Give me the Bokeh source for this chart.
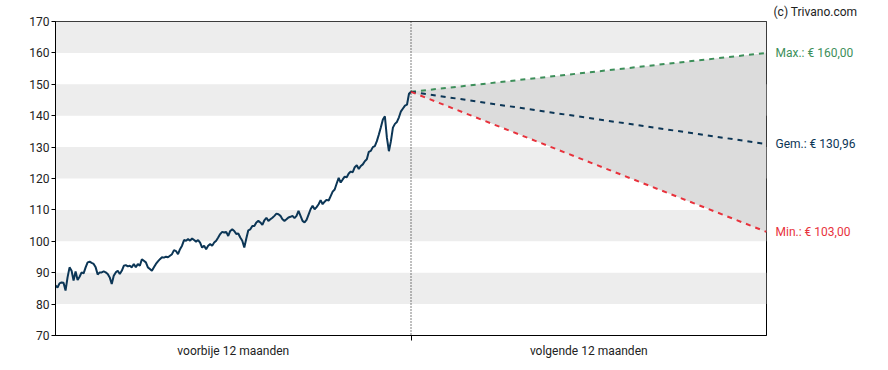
import numpy as np
from bokeh.plotting import figure
from bokeh.layouts import row
from bokeh.models import FixedTicker, Span, Label
from bokeh.embed import file_html
from bokeh.resources import INLINE

# ---- data ----
past_prices = [
    85.9, 85.3, 86.6, 86.9, 86.8, 84.3, 88.5, 91.7, 90.6, 87.5, 90.4, 87.7, 88.7, 90.1, 89.8,
    91.7, 93.3, 93.5, 93.1, 92.8, 91.7, 89.4, 90.1, 90.1, 90.4, 90.1, 89.6, 88.5, 86.4, 89.0,
    90.1, 90.6, 89.6, 90.6, 92.2, 92.4, 92.0, 92.2, 91.7, 92.8, 91.7, 92.8, 92.2, 94.3, 93.8,
    93.3, 91.7, 91.2, 90.6, 91.7, 92.8, 93.6, 94.3, 94.9, 94.8, 95.1, 94.9, 95.4, 95.9, 97.2,
    96.9, 95.9, 97.5, 98.6, 100.4, 100.2, 100.7, 100.2, 100.9, 100.4, 99.9, 100.4, 99.6, 98.0,
    98.6, 97.5, 98.6, 99.1, 98.6, 99.6, 100.2, 101.2, 102.3, 103.0, 102.8, 103.0, 101.7, 103.3,
    103.8, 103.3, 102.3, 102.5, 101.2, 100.2, 98.0, 100.9, 103.5, 103.8, 104.9, 104.9, 106.0,
    106.5, 106.0, 105.2, 106.7, 107.5, 106.5, 107.0, 107.5, 108.1, 108.8, 108.6, 108.1, 107.0,
    106.5, 107.0, 107.6, 107.8, 108.1, 107.4, 108.1, 109.7, 108.1, 106.5, 106.0, 106.8, 108.5,
    110.2, 111.3, 110.2, 110.9, 111.8, 113.1, 111.8, 112.6, 113.2, 113.0, 114.4, 115.8, 116.5,
    118.4, 120.2, 118.7, 119.7, 120.6, 120.4, 121.6, 122.2, 122.0, 123.6, 124.2, 123.0, 124.0,
    124.5, 125.5, 126.1, 128.5, 128.8, 130.0, 130.3, 131.9, 134.0, 136.3, 138.8, 139.8, 133.0,
    128.7, 131.9, 136.2, 137.4, 138.0, 139.5, 141.4, 142.3, 143.2, 143.5, 147.0, 147.6,
]
past_months = 12
future_months = 12
forecast_max = 160.00
forecast_avg = 130.96
forecast_min = 103.00
band_lows = [80, 100, 120, 140, 160]
band_size = 10
y_ticks = [70, 80, 90, 100, 110, 120, 130, 140, 150, 160, 170]
period_labels = ["voorbije 12 maanden", "volgende 12 maanden"]
label_texts = ["Max.: € 160,00", "Gem.: € 130,96", "Min.: € 103,00"]
copyright_text = "(c) Trivano.com"

FONT = "Roboto"
NAVY = "#0c3656"
GREEN = "#3d8f5a"
RED = "#e8323c"

Y0, Y1 = 70, 170
H = 362
TOP, BOTTOM = 20, 27

x_end = past_months + future_months
p = figure(width=768, height=H, output_backend="svg", toolbar_location=None,
           x_range=(0, x_end), y_range=(Y0, Y1),
           min_border_left=55, min_border_right=2, min_border_top=TOP, min_border_bottom=BOTTOM)
p.grid.visible = False
p.outline_line_color = "black"
p.outline_line_alpha = 1
p.outline_line_width = 1
p.background_fill_color = "white"
p.border_fill_color = "white"

p.quad(left=0, right=x_end, bottom=band_lows, top=[b + band_size for b in band_lows],
       fill_color="#ededed", line_color=None)

last = past_prices[-1]
fx = [past_months, x_end]
p.varea(x=fx, y1=[last, forecast_min], y2=[last, forecast_max], fill_color="#dcdcdc")

px = np.linspace(0, past_months, len(past_prices))
p.line(px, past_prices, line_color=NAVY, line_width=2)

for target, col in [(forecast_max, GREEN), (forecast_avg, NAVY), (forecast_min, RED)]:
    p.line(fx, [last, target], line_color=col, line_width=2, line_dash="5 5")

p.add_layout(Span(location=past_months, dimension="height", line_color="black",
                  line_width=1, line_dash="1 2"))

p.yaxis.ticker = FixedTicker(ticks=y_ticks)
p.yaxis.major_tick_out = 4
p.yaxis.major_tick_in = 0
p.yaxis.minor_tick_line_color = None
p.yaxis.axis_line_color = "black"
p.yaxis.major_label_text_font = FONT
p.yaxis.major_label_text_font_size = "12px"
p.yaxis.major_label_text_color = "#222222"
p.yaxis.major_label_standoff = 2

mid1 = past_months / 2
mid2 = past_months + future_months / 2
p.xaxis.ticker = FixedTicker(ticks=[mid1, mid2], minor_ticks=[past_months])
p.xaxis.major_label_overrides = {mid1: period_labels[0], mid2: period_labels[1]}
p.xaxis.major_tick_line_color = None
p.xaxis.minor_tick_out = 5
p.xaxis.minor_tick_in = 0
p.xaxis.minor_tick_line_color = "black"
p.xaxis.axis_line_color = "black"
p.xaxis.major_label_text_font = FONT
p.xaxis.major_label_text_font_size = "12px"
p.xaxis.major_label_text_color = "#222222"
p.xaxis.major_label_standoff = 2

# side panel with labels, same vertical scale (frames are aligned in the row)
side = figure(width=112, height=H, output_backend="svg", toolbar_location=None,
              x_range=(0, 1), y_range=(Y0, Y1), title=copyright_text,
              min_border_left=0, min_border_right=0, min_border_top=TOP, min_border_bottom=BOTTOM,
              x_axis_location=None, y_axis_location=None)
side.grid.visible = False
side.outline_line_color = None
side.background_fill_color = "white"
side.border_fill_color = "white"
side.title.text_font = FONT
side.title.text_font_size = "12px"
side.title.text_font_style = "normal"
side.title.text_color = "#222222"
side.title.offset = 5
side.title.standoff = 5

for txt, yv, col in zip(label_texts, [forecast_max, forecast_avg, forecast_min], [GREEN, NAVY, RED]):
    side.add_layout(Label(x=0, y=yv, text=txt, x_offset=7, text_baseline="middle",
                          text_font=FONT, text_font_size="12px", text_color=col))

layout = row(p, side, spacing=0)
open("out.html", "w").write(file_html(layout, INLINE))
